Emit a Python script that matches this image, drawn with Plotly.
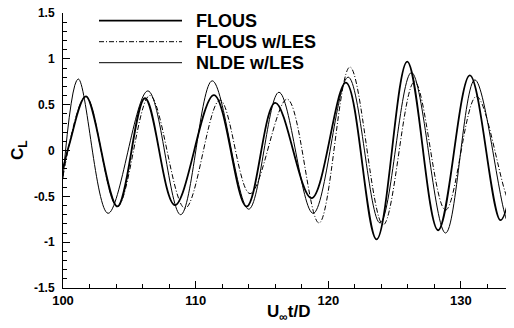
import plotly.graph_objects as go

# FLOUS (thick solid)
t_flous = [100.0, 100.5, 101.73, 104.1, 106.18, 108.44, 111.38, 113.84, 116.0,
           118.74, 121.33, 123.64, 125.95, 128.28, 130.67, 132.98, 134.0]
cl_flous = [-0.2, 0.08, 0.59, -0.61, 0.57, -0.595, 0.605, -0.61, 0.52,
            -0.52, 0.74, -0.97, 0.97, -0.87, 0.82, -0.76, -0.25]

# FLOUS w/LES (dash-dot)
t_flous_les = [100.0, 101.73, 104.1, 106.55, 109.2, 111.83, 114.1, 116.9, 119.3,
               121.63, 124.14, 126.5, 128.84, 131.17, 133.68, 134.0]
cl_flous_les = [-0.28, 0.59, -0.61, 0.6, -0.63, 0.55, -0.47, 0.56, -0.79,
                0.91, -0.81, 0.75, -0.65, 0.59, -0.56, -0.54]

# NLDE w/LES (thin solid)
t_nlde = [100.0, 101.15, 103.4, 106.4, 108.87, 111.25, 114.0, 116.28, 118.86,
          121.5, 123.9, 126.27, 128.84, 131.05, 133.6, 134.0]
cl_nlde = [-0.3, 0.78, -0.685, 0.65, -0.70, 0.76, -0.64, 0.635, -0.685,
           0.80, -0.79, 0.85, -0.9, 0.77, -0.79, -0.70]

x_ticks = [100, 110, 120, 130]
x_ticklabels = ["100", "110", "120", "130"]
y_ticks = [-1.5, -1, -0.5, 0, 0.5, 1, 1.5]
y_ticklabels = ["-1.5", "-1", "-0.5", "0", "0.5", "1", "1.5"]

series = [
    ("FLOUS", t_flous, cl_flous, 1.8, "solid"),
    ("FLOUS w/LES", t_flous_les, cl_flous_les, 1.0, "5px,2px,1px,2px"),
    ("NLDE w/LES", t_nlde, cl_nlde, 1.0, "solid"),
]

FONT = "Liberation Sans, Arial, sans-serif"
OFF = 8.0  # default page body margin
W, H = 514.0 - OFF, 328.0 - OFF
# page-pixel plot box: left 63, top 13, bottom 288, right 514
L, T = 63.0 - OFF, 13.0 - OFF
R, B = 0.0, 328.0 - 288.0
pw, ph = W - L - R, H - T - B

def px_x(x):  # page pixel -> paper
    return (x - OFF - L) / pw

def px_y(y):
    return 1 - (y - OFF - T) / ph

fig = go.Figure()
for name, t, cl, w, dash in series:
    fig.add_trace(go.Scatter(x=t, y=cl, mode="lines", name=name, showlegend=False,
                             line=dict(color="black", width=w, dash=dash,
                                       shape="spline", smoothing=1.0)))

# manual legend (long line samples like the original)
legend_y = [20.7, 41.7, 62.7]
for (name, t, cl, w, dash), ypx in zip(series, legend_y):
    yp = px_y(ypx)
    fig.add_shape(type="line", xref="paper", yref="paper",
                  x0=px_x(99), x1=px_x(182), y0=yp, y1=yp,
                  line=dict(color="black", width=w, dash=dash))
    fig.add_annotation(text=name, xref="paper", yref="paper",
                       x=px_x(194), y=yp, xanchor="left", yanchor="middle",
                       showarrow=False,
                       font=dict(family=FONT, size=18, color="black", weight="bold"))

# axis titles
fig.add_annotation(text="C<sub>L</sub>", xref="paper", yref="paper",
                   x=px_x(19), y=px_y(150), xanchor="center", yanchor="middle",
                   textangle=-90, showarrow=False,
                   font=dict(family=FONT, size=17, color="black", weight="bold"))
fig.add_annotation(text="U<sub>∞</sub>t/D", xref="paper", yref="paper",
                   x=px_x(288), y=px_y(313), xanchor="center", yanchor="middle",
                   showarrow=False,
                   font=dict(family=FONT, size=17, color="black", weight="bold"))

fig.update_layout(
    width=W, height=H,
    margin=dict(l=L, r=R, t=T, b=B, autoexpand=False),
    paper_bgcolor="white", plot_bgcolor="white",
    font=dict(family=FONT, color="black"),
    xaxis=dict(range=[100, 134], showline=True, linecolor="black", linewidth=1,
               ticks="inside", ticklen=7, tickwidth=1, tickcolor="black",
               tickvals=x_ticks, ticktext=x_ticklabels, automargin=False,
               ticklabeloverflow="allow",
               minor=dict(dtick=2, ticks="inside", ticklen=4, tickcolor="black"),
               showgrid=False, zeroline=False,
               tickfont=dict(family=FONT, size=13, weight="bold")),
    yaxis=dict(range=[-1.5, 1.5], showline=True, linecolor="black", linewidth=1,
               ticks="inside", ticklen=7, tickwidth=1, tickcolor="black",
               tickvals=y_ticks, ticktext=y_ticklabels, automargin=False,
               ticklabeloverflow="allow",
               minor=dict(dtick=0.1, ticks="inside", ticklen=4, tickcolor="black"),
               showgrid=False, zeroline=False, ticklabelstandoff=5,
               tickfont=dict(family=FONT, size=12, weight="bold")),
)

fig.write_html("out.html")
